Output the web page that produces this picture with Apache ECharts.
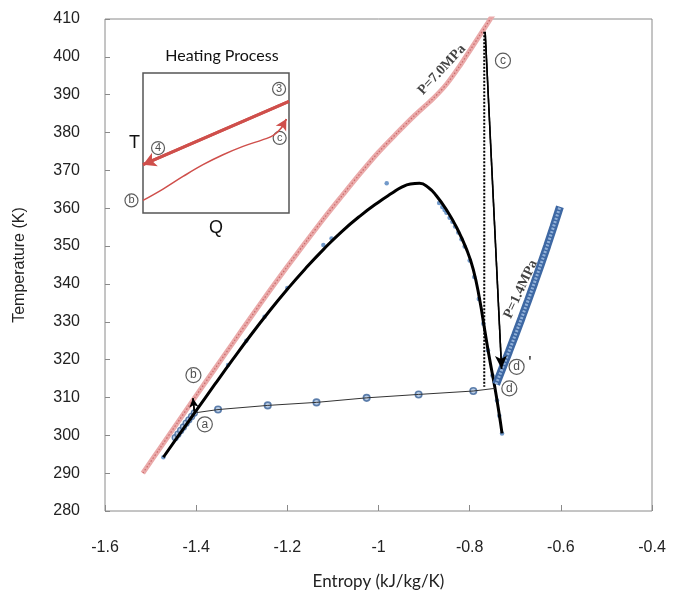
<!DOCTYPE html>
<html><head><meta charset="utf-8">
<script src="https://cdn.jsdelivr.net/npm/echarts@6/dist/echarts.min.js"></script>
<style>html,body{margin:0;padding:0;background:#fff}#c{width:673px;height:602px}</style>
</head><body><div id="c"></div>
<script>
// ---- axis ticks ----
const xTickLabels = ['-1.6','-1.4','-1.2','-1','-0.8','-0.6','-0.4'];
const xMin = -1.6, xMax = -0.4, xStep = 0.2;
const yTickLabels = ['280','290','300','310','320','330','340','350','360','370','380','390','400','410'];
const yMin = 280, yMax = 410, yStep = 10;

// ---- main chart data [entropy, temperature] ----
const redIsobar = [[-1.517,290.0],[-1.48,296.5],[-1.44,303.5],[-1.40,310.5],[-1.36,317.4],[-1.32,324.3],[-1.28,331.2],[-1.24,338.0],[-1.20,344.6],[-1.16,351.0],[-1.12,357.3],[-1.08,363.3],[-1.04,369.2],[-1.00,374.8],[-0.96,379.8],[-0.92,384.6],[-0.88,389.0],[-0.85,392.9],[-0.82,397.9],[-0.80,401.6],[-0.78,405.3],[-0.76,409.0],[-0.745,411.8]];
const satDome = [[-1.472,294.2],[-1.44,299.7],[-1.40,306.5],[-1.36,313.3],[-1.32,320.0],[-1.28,326.5],[-1.24,332.7],[-1.20,338.6],[-1.16,344.1],[-1.12,349.2],[-1.08,353.9],[-1.04,358.0],[-1.00,361.6],[-0.97,364.0],[-0.95,365.5],[-0.93,366.4],[-0.91,366.6],[-0.89,365.4],[-0.873,363.3],[-0.851,359.6],[-0.829,355.0],[-0.807,349.2],[-0.792,343.8],[-0.778,335.8],[-0.767,327.8],[-0.756,320.0],[-0.745,312.8],[-0.736,306.2],[-0.729,300.5]];
const satDots = [[-1.472,294.2],[-1.33,318.6],[-1.29,325.0],[-1.25,331.3],[-1.20,338.9],[-1.121,350.3],[-1.103,352.0],[-0.982,366.6],[-0.867,361.4],[-0.860,360.3],[-0.855,359.5],[-0.851,358.8],[-0.844,357.5],[-0.838,356.4],[-0.832,355.2],[-0.825,353.6],[-0.818,351.8],[-0.811,349.9],[-0.80,346.2],[-0.79,341.8],[-0.78,336.0],[-0.77,329.5],[-0.76,322.5],[-0.75,315.8],[-0.74,309.2],[-0.735,305.2],[-0.729,300.5]];
const liquidPts = [[-1.446,299.4],[-1.440,300.3],[-1.434,301.3],[-1.428,302.2],[-1.422,303.2],[-1.416,304.1],[-1.410,305.0],[-1.404,305.9]];
const lowIsobar = [[-1.399,306.0],[-1.352,306.8],[-1.243,307.9],[-1.136,308.7],[-1.026,309.9],[-0.912,310.8],[-0.792,311.7],[-0.745,312.4]];
const vaporIsobar = [[-0.742,313.5],[-0.728,317.8],[-0.714,322.1],[-0.70,326.5],[-0.686,331.0],[-0.672,335.6],[-0.658,340.3],[-0.644,345.1],[-0.630,350.0],[-0.616,355.1],[-0.602,360.4]];
const dottedDrop = [[-0.768,406.6],[-0.768,312.8]];
const expansionArrow = [[-0.766,406.6],[-0.730,317.6]];
const pumpArrow = [[-1.404,306.3],[-1.407,309.8]];
const stateLabels = [['c',-0.727,399.0],['d',-0.713,312.4],['d',-0.697,318.1],['b',-1.406,315.9],['a',-1.381,302.9]];
const primeMark = [["'",-0.668,319.3]];
const pressureLabels = [['P=7.0MPa',-0.861,396.6,47],['P=1.4MPa',-0.688,338.6,65]];

// ---- inset (normalised Q, T) ----
const insetHot = [[1,0.797],[0,0.345]];
const insetCold = [[0,0.09],[0.137,0.171],[0.274,0.261],[0.411,0.345],[0.548,0.416],[0.685,0.476],[0.822,0.524],[0.890,0.552],[0.947,0.607],[0.982,0.671]];
const insetLabels = [['3',0.932,0.886],['4',0.103,0.464],['c',0.936,0.536],['b',-0.079,0.09]];

const insetRed = '#cf4f4b';
const chart = echarts.init(document.getElementById('c'));

function arrowMark(pts, color, width, size){
  const n = pts.length;
  return {
    silent: true, symbol: ['none','arrow'], symbolSize: size, label: {show:false},
    lineStyle: {color: color, width: width, type: 'solid'},
    emphasis: {disabled: true},
    data: [[{coord: pts[n-2]}, {coord: pts[n-1]}]]
  };
}

chart.setOption({
  animation: false,
  backgroundColor: '#fff',
  title: {
    text: 'Heating Process', left: 217, top: 43, textAlign: 'center',
    textStyle: {fontFamily: 'Lato', fontSize: 16, fontWeight: 'normal', color: '#111'}
  },
  grid: [
    {left: 105, right: 21, top: 19, bottom: 91, show: true, borderColor: '#8a8a8a', borderWidth: 1},
    {left: 143, top: 73, width: 146, height: 140, show: true, borderColor: '#555', borderWidth: 1.5}
  ],
  xAxis: [
    {type: 'value', gridIndex: 0, min: xMin, max: xMax, interval: xStep,
     name: 'Entropy (kJ/kg/K)', nameLocation: 'middle', nameGap: 62,
     nameTextStyle: {fontFamily: 'Lato', fontSize: 17, color: '#222'},
     axisLine: {show: false}, splitLine: {show: false},
     axisTick: {show: true, inside: true, length: 6, lineStyle: {color: '#8a8a8a'}},
     axisLabel: {margin: 29, fontFamily: 'Liberation Sans', fontSize: 16, color: '#222',
       formatter: v => xTickLabels[Math.round((v - xMin) / xStep)]}},
    {type: 'value', gridIndex: 1, min: 0, max: 1, name: 'Q', nameLocation: 'middle', nameGap: 6,
     nameTextStyle: {fontFamily: 'Liberation Sans', fontSize: 18, color: '#111', verticalAlign: 'top'},
     axisLine: {show: false}, axisTick: {show: false}, axisLabel: {show: false}, splitLine: {show: false}}
  ],
  yAxis: [
    {type: 'value', gridIndex: 0, min: yMin, max: yMax, interval: yStep,
     name: 'Temperature (K)', nameLocation: 'middle', nameGap: 77, nameRotate: 90,
     nameTextStyle: {fontFamily: 'Liberation Sans', fontSize: 16, color: '#222'},
     axisLine: {show: false}, splitLine: {show: false},
     axisTick: {show: true, inside: true, length: 5, lineStyle: {color: '#8a8a8a'}},
     axisLabel: {margin: 25, fontFamily: 'Liberation Sans', fontSize: 16, color: '#222',
       formatter: v => yTickLabels[Math.round((v - yMin) / yStep)]}},
    {type: 'value', gridIndex: 1, min: 0, max: 1, name: 'T', nameLocation: 'middle', nameGap: 3, nameRotate: 0,
     nameTextStyle: {fontFamily: 'Liberation Sans', fontSize: 18, color: '#111', align: 'right'},
     axisLine: {show: false}, axisTick: {show: false}, axisLabel: {show: false}, splitLine: {show: false}}
  ],
  series: [
    {type: 'line', data: redIsobar, showSymbol: false, symbol: 'none', smooth: 0.3, silent: true,
     lineStyle: {color: '#eaaaaa', width: 5}},
    {type: 'line', data: redIsobar, showSymbol: false, symbol: 'none', smooth: 0.3, silent: true,
     lineStyle: {color: '#cc6868', width: 1.2, type: [1.5, 2]}},
    {type: 'scatter', data: satDots, symbol: 'circle', symbolSize: 4.5, silent: true,
     itemStyle: {color: '#4f81bd'}},
    {type: 'line', data: satDome, showSymbol: false, symbol: 'none', smooth: 0.5, silent: true,
     lineStyle: {color: '#000', width: 3}},
    {type: 'scatter', data: liquidPts, symbol: 'circle', symbolSize: 6, silent: true,
     itemStyle: {color: '#a9c0de', borderColor: '#3b6398', borderWidth: 1.3}},
    {type: 'line', data: lowIsobar, showSymbol: false, symbol: 'none', silent: true,
     lineStyle: {color: '#333', width: 1}},
    {type: 'scatter', data: lowIsobar.slice(1, -1), symbol: 'circle', symbolSize: 6.5, silent: true,
     itemStyle: {color: '#a9c0de', borderColor: '#3b6398', borderWidth: 1.6}},
    {type: 'line', data: vaporIsobar, showSymbol: false, symbol: 'none', silent: true,
     lineStyle: {color: '#3e68a3', width: 8}},
    {type: 'line', data: vaporIsobar, showSymbol: false, symbol: 'none', silent: true,
     lineStyle: {color: '#93b2da', width: 3, type: [2, 1.5]}},
    {type: 'line', data: dottedDrop, showSymbol: false, symbol: 'none', silent: true,
     lineStyle: {color: '#000', width: 2, type: [2, 1.5]}},
    {type: 'line', data: expansionArrow, showSymbol: false, symbol: 'none', silent: true,
     lineStyle: {color: '#000', width: 1.5},
     markLine: arrowMark(expansionArrow, '#000', 1.5, [9, 13])},
    {type: 'line', data: pumpArrow, showSymbol: false, symbol: 'none', silent: true,
     lineStyle: {color: '#000', width: 1.5},
     markLine: arrowMark(pumpArrow, '#000', 1.5, [7, 9])},
    {type: 'scatter', silent: true, symbol: 'circle', symbolSize: 15,
     itemStyle: {color: '#fff', borderColor: '#333', borderWidth: 1.2},
     label: {show: true, position: 'inside', formatter: p => p.name, fontFamily: 'Liberation Sans', fontSize: 12, color: '#222'},
     data: stateLabels.map(d => ({name: d[0], value: [d[1], d[2]]}))},
    {type: 'scatter', silent: true, symbolSize: 1, itemStyle: {color: 'rgba(0,0,0,0)'},
     label: {show: true, position: 'inside', formatter: p => p.name, fontFamily: 'Liberation Sans', fontSize: 14, fontWeight: 'bold', color: '#222'},
     data: primeMark.map(d => ({name: d[0], value: [d[1], d[2]]}))},
    {type: 'scatter', silent: true, symbolSize: 1, itemStyle: {color: 'rgba(0,0,0,0)'},
     data: pressureLabels.map(d => ({name: d[0], value: [d[1], d[2]],
       label: {show: true, position: 'inside', rotate: d[3], formatter: p => p.name,
         fontFamily: 'Liberation Serif', fontSize: 14, fontWeight: 'bold', color: '#111'}}))},
    // inset
    {type: 'line', xAxisIndex: 1, yAxisIndex: 1, data: insetHot, showSymbol: false, symbol: 'none', silent: true,
     lineStyle: {color: insetRed, width: 3},
     markLine: arrowMark(insetHot, insetRed, 3, [11, 13])},
    {type: 'line', xAxisIndex: 1, yAxisIndex: 1, data: insetCold, showSymbol: false, symbol: 'none', smooth: 0.4, silent: true,
     lineStyle: {color: insetRed, width: 1.5},
     markLine: arrowMark(insetCold, insetRed, 1.5, [9, 11])},
    {type: 'scatter', xAxisIndex: 1, yAxisIndex: 1, silent: true, clip: false, symbol: 'circle', symbolSize: 13,
     itemStyle: {color: '#fff', borderColor: '#333', borderWidth: 1.2},
     label: {show: true, position: 'inside', formatter: p => p.name, fontFamily: 'Liberation Sans', fontSize: 11, color: '#222'},
     data: insetLabels.map(d => ({name: d[0], value: [d[1], d[2]]}))}
  ]
});
</script>
</body></html>
